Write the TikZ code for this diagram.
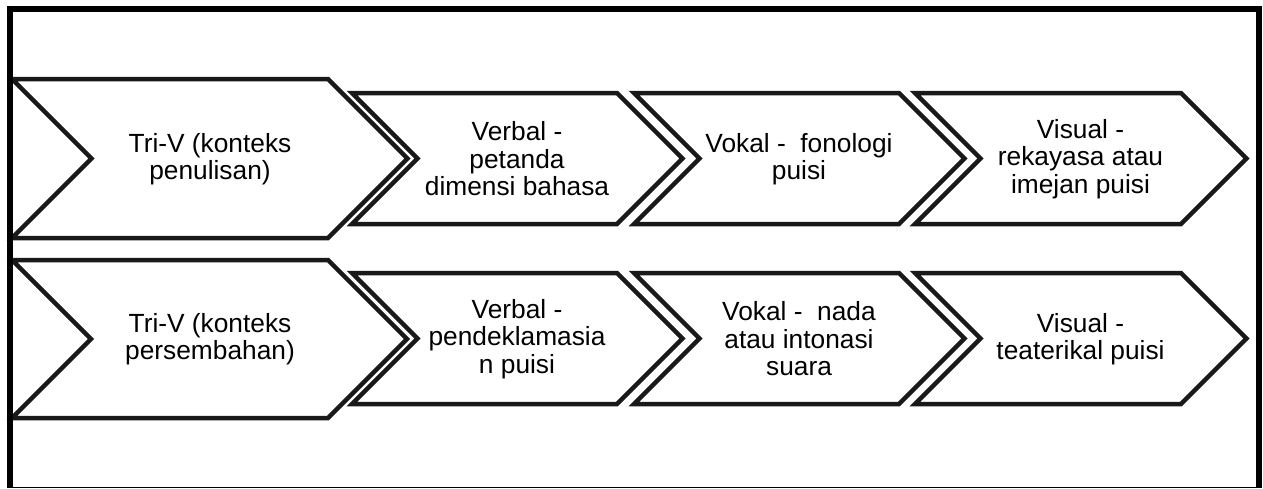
\documentclass[tikz,border=0pt]{standalone}
\usepackage{fontspec}
\setmainfont{Liberation Sans}
\usetikzlibrary{positioning}

\begin{document}
\begin{tikzpicture}[
    x=1pt, y=-1pt,
    % chevron outlines and page frame
    chevron/.style={draw=black!90, line width=4.5pt, fill=white, line join=miter},
    frame/.style={draw=black, line width=6pt, line join=miter},
    % text inside the chevrons
    label/.style={align=center, inner sep=0pt, font=\fontsize{26.3}{27.5}\selectfont}
]
\useasboundingbox (0,0) rectangle (1263,488);

% Row 1 - konteks penulisan
\draw[chevron] (12,79) -- (328,79) -- (407.5,158.5) -- (328,238) -- (12,238) -- (91.5,158.5) -- cycle;
\draw[chevron] (352,93) -- (617,93) -- (682.5,158.5) -- (617,224) -- (352,224) -- (417.5,158.5) -- cycle;
\draw[chevron] (634,93) -- (899,93) -- (964.5,158.5) -- (899,224) -- (634,224) -- (699.5,158.5) -- cycle;
\draw[chevron] (915,93) -- (1181,93) -- (1246.5,158.5) -- (1181,224) -- (915,224) -- (980.5,158.5) -- cycle;

\node[label] (tri1) at (210,159) {Tri-V (konteks\\penulisan)};
\node[label] (verbal1) at (517,159) {Verbal -\\petanda\\dimensi bahasa};
\node[label] (vokal1) at (799,159) {Vokal -\ \ fonologi\\puisi};
\node[label] (visual1) at (1080.5,159) {Visual -\\rekayasa atau\\imejan puisi};

% Row 2 - konteks persembahan
\draw[chevron] (12,260) -- (328,260) -- (407,339) -- (328,418) -- (12,418) -- (91,339) -- cycle;
\draw[chevron] (352,273) -- (617,273) -- (682.5,338.5) -- (617,404) -- (352,404) -- (417.5,338.5) -- cycle;
\draw[chevron] (634,273) -- (899,273) -- (964.5,338.5) -- (899,404) -- (634,404) -- (699.5,338.5) -- cycle;
\draw[chevron] (915,273) -- (1181,273) -- (1246.5,338.5) -- (1181,404) -- (915,404) -- (980.5,338.5) -- cycle;

\node[label] (tri2) at (210,339) {Tri-V (konteks\\persembahan)};
\node[label] (verbal2) at (517,339) {Verbal -\\pendeklamasia\\n puisi};
\node[label] (vokal2) at (799,339) {Vokal -\ \ nada\\atau intonasi\\suara};
\node[label] (visual2) at (1080.5,339) {Visual -\\teaterikal puisi};

% Frame
\draw[frame] (10,488) -- (10,8.5) -- (1259,8.5) -- (1259,488);
\draw[black, line width=1pt] (10,487.5) -- (1259,487.5);

\end{tikzpicture}
\end{document}
